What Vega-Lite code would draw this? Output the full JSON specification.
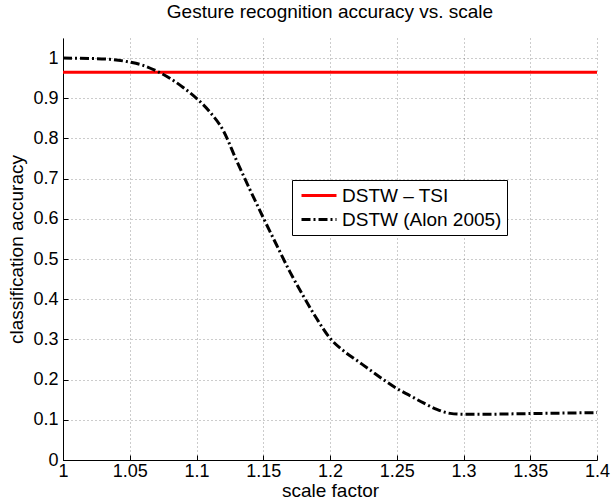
{
  "$schema": "https://vega.github.io/schema/vega-lite/v6.json",
  "autosize": {"type": "none"},
  "padding": {"left": 63, "top": 38, "right": 16, "bottom": 44},
  "width": 534,
  "height": 422,
  "background": "white",
  "title": {"text": "Gesture recognition accuracy vs. scale", "font": "Liberation Sans", "fontSize": 19, "fontWeight": "normal", "color": "black", "offset": 16, "anchor": "middle"},
  "config": {
    "view": {"stroke": null},
    "axis": {
      "labelFont": "Liberation Sans", "labelFontSize": 18, "labelColor": "black",
      "titleFont": "Liberation Sans", "titleFontSize": 19, "titleFontWeight": "normal", "titleColor": "black",
      "domainColor": "black", "domainWidth": 1,
      "tickColor": "black", "tickSize": -5, "tickWidth": 1,
      "gridColor": "#000000", "gridOpacity": 0.4, "gridDash": [1, 3], "gridWidth": 1
    }
  },
  "data": {"values": [
    {"series": "DSTW – TSI", "x": 1.0, "y": 0.965},
    {"series": "DSTW – TSI", "x": 1.4, "y": 0.965},
    {"series": "DSTW (Alon 2005)", "x": 1.00, "y": 1.000},
    {"series": "DSTW (Alon 2005)", "x": 1.02, "y": 0.999},
    {"series": "DSTW (Alon 2005)", "x": 1.035, "y": 0.997},
    {"series": "DSTW (Alon 2005)", "x": 1.05, "y": 0.990},
    {"series": "DSTW (Alon 2005)", "x": 1.06, "y": 0.982},
    {"series": "DSTW (Alon 2005)", "x": 1.07, "y": 0.968},
    {"series": "DSTW (Alon 2005)", "x": 1.08, "y": 0.950},
    {"series": "DSTW (Alon 2005)", "x": 1.09, "y": 0.927},
    {"series": "DSTW (Alon 2005)", "x": 1.10, "y": 0.900},
    {"series": "DSTW (Alon 2005)", "x": 1.11, "y": 0.866},
    {"series": "DSTW (Alon 2005)", "x": 1.12, "y": 0.820},
    {"series": "DSTW (Alon 2005)", "x": 1.13, "y": 0.745},
    {"series": "DSTW (Alon 2005)", "x": 1.14, "y": 0.673},
    {"series": "DSTW (Alon 2005)", "x": 1.15, "y": 0.603},
    {"series": "DSTW (Alon 2005)", "x": 1.16, "y": 0.535},
    {"series": "DSTW (Alon 2005)", "x": 1.17, "y": 0.468},
    {"series": "DSTW (Alon 2005)", "x": 1.18, "y": 0.408},
    {"series": "DSTW (Alon 2005)", "x": 1.19, "y": 0.352},
    {"series": "DSTW (Alon 2005)", "x": 1.20, "y": 0.303},
    {"series": "DSTW (Alon 2005)", "x": 1.21, "y": 0.272},
    {"series": "DSTW (Alon 2005)", "x": 1.22, "y": 0.248},
    {"series": "DSTW (Alon 2005)", "x": 1.23, "y": 0.224},
    {"series": "DSTW (Alon 2005)", "x": 1.24, "y": 0.200},
    {"series": "DSTW (Alon 2005)", "x": 1.25, "y": 0.178},
    {"series": "DSTW (Alon 2005)", "x": 1.26, "y": 0.160},
    {"series": "DSTW (Alon 2005)", "x": 1.27, "y": 0.142},
    {"series": "DSTW (Alon 2005)", "x": 1.28, "y": 0.126},
    {"series": "DSTW (Alon 2005)", "x": 1.29, "y": 0.116},
    {"series": "DSTW (Alon 2005)", "x": 1.30, "y": 0.114},
    {"series": "DSTW (Alon 2005)", "x": 1.32, "y": 0.114},
    {"series": "DSTW (Alon 2005)", "x": 1.34, "y": 0.115},
    {"series": "DSTW (Alon 2005)", "x": 1.36, "y": 0.116},
    {"series": "DSTW (Alon 2005)", "x": 1.38, "y": 0.117},
    {"series": "DSTW (Alon 2005)", "x": 1.40, "y": 0.118}
  ]},
  "encoding": {
    "x": {"field": "x", "type": "quantitative",
      "scale": {"domain": [1, 1.4], "nice": false, "zero": false},
      "axis": {"values": [1, 1.05, 1.1, 1.15, 1.2, 1.25, 1.3, 1.35, 1.4], "format": "~g", "title": "scale factor", "labelPadding": 7, "titlePadding": 1, "labelFlush": false}},
    "y": {"field": "y", "type": "quantitative",
      "scale": {"domain": [0, 1.05], "nice": false},
      "axis": {"values": [0, 0.1, 0.2, 0.3, 0.4, 0.5, 0.6, 0.7, 0.8, 0.9, 1], "format": "~g", "title": "classification accuracy", "labelPadding": 10, "titlePadding": 6}},
    "color": {"field": "series", "type": "nominal",
      "scale": {"domain": ["DSTW – TSI", "DSTW (Alon 2005)"], "range": ["#ff0000", "#000000"]},
      "legend": {"title": null, "orient": "none", "legendX": 229, "legendY": 142,
        "fillColor": "white", "strokeColor": "black", "padding": 5,
        "symbolType": "stroke", "symbolSize": 1225, "symbolStrokeWidth": 3, "symbolOffset": 3,
        "clipHeight": 21, "rowPadding": 3, "labelOffset": 4,
        "labelFont": "Liberation Sans", "labelFontSize": 19, "labelColor": "black", "labelLimit": 300}},
    "strokeDash": {"field": "series", "type": "nominal",
      "scale": {"domain": ["DSTW – TSI", "DSTW (Alon 2005)"], "range": [[1, 0], [9, 3, 2, 3]]},
      "legend": {"title": null}}
  },
  "layer": [
    {"transform": [{"filter": "datum.series === 'DSTW – TSI'"}], "mark": {"type": "line", "strokeWidth": 3, "interpolate": "linear", "strokeCap": "butt"}},
    {"transform": [{"filter": "datum.series === 'DSTW (Alon 2005)'"}], "mark": {"type": "line", "strokeWidth": 3, "interpolate": "monotone", "strokeCap": "butt"}}
  ]
}
